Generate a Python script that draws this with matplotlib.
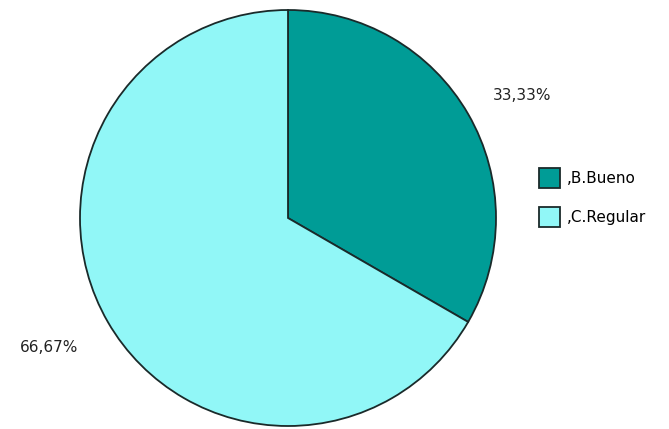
import matplotlib
matplotlib.use("Agg")
import matplotlib.pyplot as plt
from matplotlib.patches import Patch
import numpy as np

categories = [",B.Bueno", ",C.Regular"]
values = [33.33, 66.67]
colors = ["#009c96", "#91f7f7"]

plt.rcParams['font.family'] = ['DejaVu Sans']

fig = plt.figure(figsize=(6.69, 4.29), dpi=100)
W, H = 669, 429
cx, cy, r = 288, 218, 208
ax = fig.add_axes([(cx - r) / W, (H - cy - r) / H, 2 * r / W, 2 * r / H])

wedges, texts, autotexts = ax.pie(
    values, colors=colors, startangle=90, counterclock=False, radius=1,
    autopct=lambda p: f"{p:.2f}%".replace('.', ','), pctdistance=1.29,
    wedgeprops=dict(edgecolor='#1a2a2a', linewidth=1.3),
    textprops=dict(fontsize=11, color='#222222'))
ax.set_xlim(-1, 1)
ax.set_ylim(-1, 1)
ax.set_aspect('equal')
ax.axis('off')
# small angular / radial nudges of the percentage labels
label_rot = [-2.5, -1.5]
label_scale = [0.985, 1.015]
for t, dr, s in zip(autotexts, label_rot, label_scale):
    a = np.deg2rad(dr)
    x, y = t.get_position()
    t.set_position((s * (x * np.cos(a) - y * np.sin(a)), s * (x * np.sin(a) + y * np.cos(a))))
    t.set_clip_on(False)

handles = [Patch(facecolor=c, edgecolor='#1a2a2a', linewidth=1.3) for c in colors]
fig.legend(handles, categories, loc='upper left',
           bbox_to_anchor=(527 / W, 1 - 156 / H), frameon=False,
           fontsize=11, handlelength=1.35, handleheight=1.6,
           handletextpad=0.45, labelspacing=1.25, borderpad=0.3)

fig.savefig("out.png", dpi=100, facecolor='white')
